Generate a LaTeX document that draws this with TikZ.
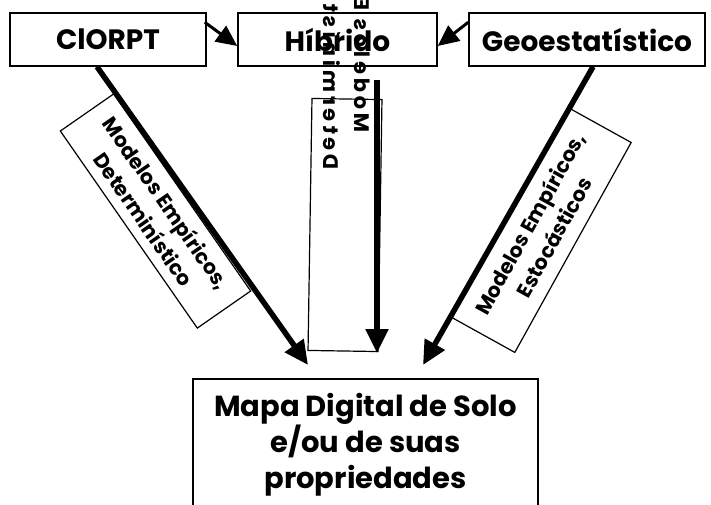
\documentclass[tikz,border=0pt]{standalone}
\usepackage{fontspec}
\setmainfont{Poppins}
\usetikzlibrary{arrows.meta,calc}
\begin{document}
\begin{tikzpicture}[x=1pt,y=-1pt,
  topbox/.style={draw,line width=1.5pt,fill=white,minimum height=53pt,inner sep=0pt,font=\fontsize{28}{34}\selectfont\bfseries},
  lblbox/.style={draw,line width=1.2pt,fill=white,minimum width=240pt,inner sep=2pt,align=center,font=\fontsize{20.5}{28}\selectfont\bfseries},
  midbox/.style={draw,line width=1.2pt,minimum width=70pt,minimum height=252pt},
  midtxt/.style={inner sep=0pt,font=\fontsize{21}{26}\selectfont\bfseries\addfontfeature{LetterSpace=18}},
  mapabox/.style={draw,line width=1.5pt,minimum width=345pt,inner sep=15pt,align=center,font=\fontsize{29}{36}\selectfont\bfseries},
  bigarrow/.style={line width=5.5pt,-{Triangle[length=24pt,width=22pt]}},
  smallarrow/.style={line width=3pt,-{Triangle[length=21pt,width=19pt]}},
]
\useasboundingbox (0,0) rectangle (711,504);
% label boxes
\node[lblbox,minimum height=65pt,rotate=-55.2] (lbl1) at (155.5,211) {Modelos Empíricos,\\Determinístico};
\node[lblbox,minimum height=72pt,rotate=61] (lbl3) at (541.5,230) {Modelos Empíricos,\\Estocásticos};
\node[midbox,rotate=-0.9] (mbox) at (345,225) {};
% top boxes
\node[topbox,minimum width=196pt] (c) at (108,39.5) {ClORPT};
\node[topbox,minimum width=199pt] (h) at (337.5,39.5) {Híbrido};
\node[topbox,minimum width=236pt] (g) at (587,39.5) {Geoestatístico};
% bottom box
\node[mapabox,anchor=north] (mapa) at (365.5,378) {Mapa Digital de Solo\\e/ou de suas\\propriedades};
% coordinates for free ends
\coordinate (mtop) at (377,80);
\coordinate (mtip) at (377,353);
% arrows
\draw[bigarrow] ([xshift=-11pt]c.south) -- ([xshift=-57.5pt,yshift=13pt]mapa.north);
\draw[bigarrow] ([xshift=6pt]g.south) -- ([xshift=57.5pt,yshift=13pt]mapa.north);
\draw[bigarrow] (mtop) -- (mtip);
\draw[smallarrow] ([xshift=-2pt,yshift=-10pt]c.north east) -- ([yshift=-6.5pt]h.west);
\draw[smallarrow] ([yshift=-10pt]g.north west) -- ([yshift=-6.5pt]h.east);
% garbled vertical text of the middle label
\node[midtxt,anchor=west,xscale=-1,rotate=90] (mid1) at (360,133) {Modelos Empíricos,};
\node[midtxt,anchor=west,xscale=-1,rotate=90] (mid2) at (332,170) {Determinístico};
\end{tikzpicture}
\end{document}
